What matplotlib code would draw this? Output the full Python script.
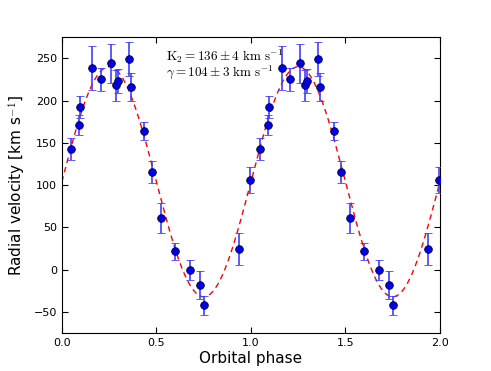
import numpy as np
import matplotlib
matplotlib.use("Agg")
import matplotlib.pyplot as plt

# measured radial velocities (one orbit, plotted twice)
phase = [0.046, 0.090, 0.097, 0.162, 0.205, 0.261, 0.287, 0.298, 0.353, 0.365,
         0.437, 0.478, 0.524, 0.600, 0.676, 0.730, 0.751, 0.935, 0.996]
rv = [143, 171, 192, 238, 225, 244, 218, 223, 249, 216,
      164, 115, 61, 22, 0, -18, -42, 24, 106]
rv_err = [13, 12, 13, 26, 14, 23, 18, 14, 20, 17,
          11, 13, 18, 10, 12, 17, 11, 19, 15]

# fitted orbit
K2 = 136.0
gamma = 104.0

plt.rcParams["mathtext.fontset"] = "cm"

fig = plt.figure(figsize=(4.91, 3.71), dpi=100)
ax = fig.add_axes([0.126, 0.102, 0.770, 0.798])

ph = np.array(phase)
v = np.array(rv)
err = np.array(rv_err)

model_x = np.linspace(0, 2, 400)
model_y = gamma + K2 * np.sin(2 * np.pi * model_x)
ax.plot(model_x, model_y, "r--", lw=1.0, dashes=(4, 3), zorder=1)

for shift in (0, 1):
    ax.errorbar(ph + shift, v, yerr=err, fmt="o", color="#0000ee",
                mec="#000033", mew=0.6, ms=5.5, ecolor="#4040ff", elinewidth=1.2,
                capsize=3, capthick=1.0, zorder=3)

ax.text(0.55, 253, r"$\mathrm{K_2 =136 \pm 4\ km\ s^{-1}}$", fontsize=9.5,
        va="center", ha="left")
ax.text(0.55, 233, r"$\gamma\mathrm{=104 \pm 3\ km\ s^{-1}}$", fontsize=9.5,
        va="center", ha="left")

ax.set_xlim(0, 2)
ax.set_ylim(-75, 275)
ax.set_xticks([0.0, 0.5, 1.0, 1.5, 2.0])
ax.set_yticks([-50, 0, 50, 100, 150, 200, 250])
ax.tick_params(direction="in", top=True, right=True, labelsize=8, length=4)
ax.set_xlabel("Orbital phase", fontsize=11, labelpad=2)
ax.set_ylabel(r"Radial velocity [km s$^{-1}$]", fontsize=11)

fig.savefig("out.png", dpi=100)
